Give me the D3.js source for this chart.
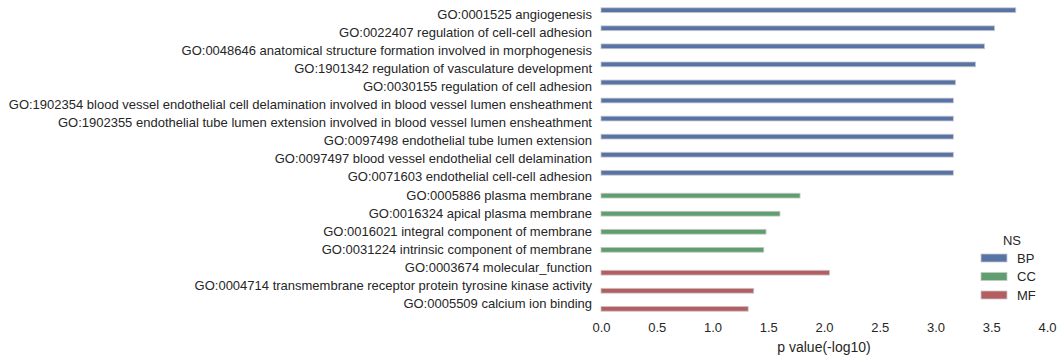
<!DOCTYPE html>
<html><head><meta charset="utf-8">
<script src="https://cdn.jsdelivr.net/npm/d3@7"></script>
<style>body{margin:0;background:#fff}text{font-family:"Liberation Sans",Arial,sans-serif;fill:#262626}</style>
</head><body><svg id="c" width="1064" height="362"></svg>
<script>
const terms = [
"GO:0001525 angiogenesis",
"GO:0022407 regulation of cell-cell adhesion",
"GO:0048646 anatomical structure formation involved in morphogenesis",
"GO:1901342 regulation of vasculature development",
"GO:0030155 regulation of cell adhesion",
"GO:1902354 blood vessel endothelial cell delamination involved in blood vessel lumen ensheathment",
"GO:1902355 endothelial tube lumen extension involved in blood vessel lumen ensheathment",
"GO:0097498 endothelial tube lumen extension",
"GO:0097497 blood vessel endothelial cell delamination",
"GO:0071603 endothelial cell-cell adhesion",
"GO:0005886 plasma membrane",
"GO:0016324 apical plasma membrane",
"GO:0016021 integral component of membrane",
"GO:0031224 intrinsic component of membrane",
"GO:0003674 molecular_function",
"GO:0004714 transmembrane receptor protein tyrosine kinase activity",
"GO:0005509 calcium ion binding"];
const namespaces = ["BP","BP","BP","BP","BP","BP","BP","BP","BP","BP","CC","CC","CC","CC","MF","MF","MF"];
const pvalues = [3.72,3.53,3.44,3.36,3.18,3.16,3.16,3.16,3.16,3.16,1.785,1.605,1.48,1.46,2.05,1.37,1.32];
const groups = ["BP","CC","MF"];
const colors = ["#5874a6","#5f9e6e","#b55d60"];
const xTicks = [0,0.5,1,1.5,2,2.5,3,3.5,4];

const svg = d3.select("#c");
const x = d3.scaleLinear().domain([0,4]).range([601,1047]);
const y = d3.scaleLinear().domain([-0.5,16.5]).range([6,313]);
const color = d3.scaleOrdinal().domain(groups).range(colors);
const hw = 0.8/3;
const off = d3.scaleOrdinal().domain(groups).range([-hw,0,hw]);

svg.append("g").selectAll("rect").data(terms).join("rect")
  .attr("x", x(0))
  .attr("y", (d,i)=>y(i+off(namespaces[i])-hw/2))
  .attr("width", (d,i)=>x(pvalues[i])-x(0))
  .attr("height", (d,i)=>y(hw)-y(0))
  .attr("fill", (d,i)=>color(namespaces[i]))
  .attr("stroke","#c8c8c8").attr("stroke-width",0.8);

svg.append("g").selectAll("text").data(terms).join("text")
  .attr("x", 592).attr("y",(d,i)=>y(i)).attr("dy","0.3em")
  .attr("text-anchor","end").attr("font-size",13).text(d=>d);

const xa = svg.append("g").attr("transform","translate(0,313)")
  .call(d3.axisBottom(x).tickValues(xTicks).tickFormat(d3.format(".1f")).tickSize(0).tickPadding(10));
xa.select(".domain").remove();
xa.selectAll("text").attr("font-size",13).attr("font-family","Liberation Sans, Arial, sans-serif").attr("fill","#262626");

svg.append("text").attr("x",(x(0)+x(4))/2).attr("y",352).attr("text-anchor","middle")
  .attr("font-size",14).text("p value(-log10)");

const lg = svg.append("g");
lg.append("text").attr("x",1012).attr("y",240).attr("dy","0.35em").attr("text-anchor","middle").attr("font-size",13).text("NS");
groups.forEach((g,i)=>{
  const yy = 258 + i*18.5;
  lg.append("rect").attr("x",981).attr("y",yy-4).attr("width",26).attr("height",8)
    .attr("fill",color(g)).attr("stroke","#c8c8c8").attr("stroke-width",0.8);
  lg.append("text").attr("x",1017).attr("y",yy).attr("dy","0.35em").attr("font-size",13).text(g);
});
</script></body></html>
